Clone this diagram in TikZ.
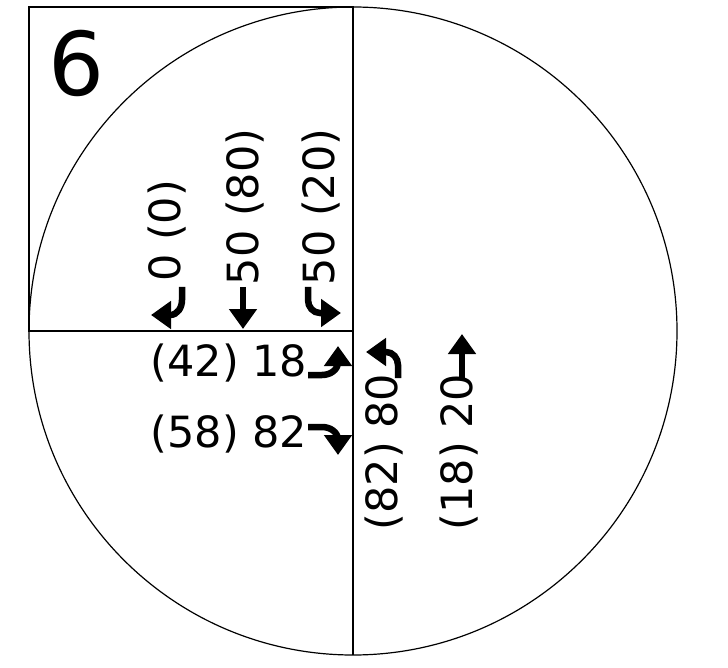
\documentclass[tikz,border=0pt]{standalone}
\usepackage{fontspec}
\setmainfont{DejaVu Sans}
\usepackage{tikz}
\usetikzlibrary{arrows.meta}

\tikzset{
  leg/.style={line width=1.2pt, black},
  vol/.style={inner sep=0pt, font=\fontsize{43}{50}\selectfont},
  volup/.style={vol, rotate=90},
  turn/.style={line width=6.5pt, -{Triangle[length=20pt, width=27pt]}},
  tag/.style={inner sep=0pt, font=\fontsize{88}{100}\selectfont}
}

\begin{document}
\begin{tikzpicture}[x=1pt, y=-1pt]
  \useasboundingbox (0,0) rectangle (728,668);

  % intersection outline
  \coordinate (c) at (353,331);
  \draw[leg] (c) circle[radius=324];
  \draw[leg] (29,7) rectangle (c);
  \draw[leg] (353,7) -- (353,655);

  \node[tag] (num) at (76,63) {6};

  % north approach (southbound)
  \node[volup] (nr) at (167,231) {0 (0)};
  \node[volup] (nt) at (245,207) {50 (80)};
  \node[volup] (nl) at (321,207) {50 (20)};
  \draw[turn] (182,287) -- (182,300) to[out=-90, in=0] (170,315) -- (151,315);
  \draw[turn] (243,287) -- (243,329);
  \draw[turn] (308,287) -- (308,300) to[out=-90, in=180] (320,313) -- (341,313);

  % west approach (eastbound)
  \node[vol] (wl) at (229,363) {(42) 18};
  \node[vol] (wr) at (229,434) {(58) 82};
  \draw[turn] (308,375) -- (322,375) to[out=0, in=-90] (338,362) -- (338,346);
  \draw[turn] (308,427) -- (322,427) to[out=0, in=90] (338,440) -- (338,455);

  % south approach (northbound)
  \node[volup] (sl) at (384,452) {(82) 80};
  \node[volup] (st) at (459,452) {(18) 20};
  \draw[turn] (398,378) -- (398,365) to[out=90, in=0] (386,352) -- (366,352);
  \draw[turn] (462,378) -- (462,334);
\end{tikzpicture}
\end{document}
